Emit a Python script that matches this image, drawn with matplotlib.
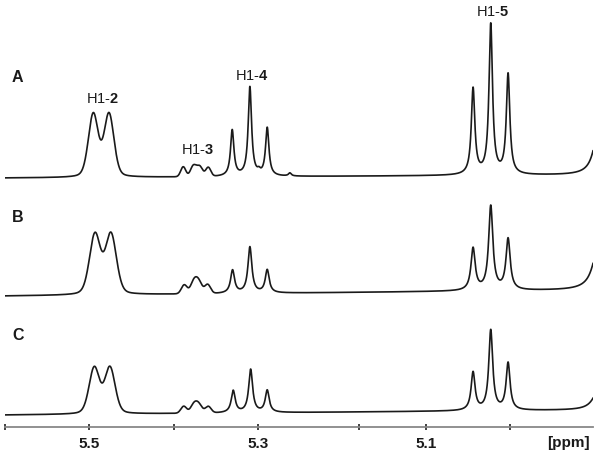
import numpy as np
import matplotlib
matplotlib.use('Agg')
import matplotlib.pyplot as plt

plt.rcParams['font.family'] = ['Liberation Sans', 'DejaVu Sans']
plt.rcParams['mathtext.fontset'] = 'custom'
plt.rcParams['mathtext.rm'] = 'Liberation Sans'
plt.rcParams['mathtext.bf'] = 'Liberation Sans:bold'

# peak lists: centre [ppm], height, half width [ppm],
# lorentzian fraction of the line shape (0 = gaussian, 1 = lorentzian)
# trace A
a_pos = [5.4955, 5.4768, 5.3886, 5.3765, 5.3690, 5.3589,
         5.3304, 5.3094, 5.2987, 5.2888, 5.2619,
         5.0442, 5.0232, 5.0026, 4.8950]
a_h = [62.8, 62.8, 10, 11, 10, 9,
       46, 89, 3, 48, 3,
       86, 150, 100, 46]
a_w = [0.0069, 0.0069, 0.0035, 0.0040, 0.0040, 0.0035,
       0.0024, 0.0024, 0.002, 0.0024, 0.002,
       0.0025, 0.0025, 0.0025, 0.007]
a_lor = [0.25, 0.25, 0, 0, 0, 0,
         1, 1, 1, 1, 1,
         1, 1, 1, 1]
a_base = [249, 252]

# trace B
b_pos = [5.4935, 5.4745, 5.3874, 5.3760, 5.3700, 5.3596,
         5.3300, 5.3094, 5.2888,
         5.0442, 5.0232, 5.0026, 4.8950]
b_h = [60, 60, 9, 12, 11, 9,
       23, 46, 23,
       42, 84, 51, 45]
b_w = [0.0077, 0.0077, 0.0040, 0.0045, 0.0045, 0.0040,
       0.0028, 0.0028, 0.0028,
       0.003, 0.003, 0.003, 0.008]
b_lor = [0.25, 0.25, 0, 0, 0, 0,
         1, 1, 1,
         1, 1, 1, 1]
b_base = [131, 137]

# trace C
c_pos = [5.4943, 5.4757, 5.3880, 5.3760, 5.3700, 5.3589,
         5.3292, 5.3085, 5.2888,
         5.0442, 5.0232, 5.0026, 4.8950]
c_h = [46, 46, 7, 8.5, 8, 6.5,
       22, 43, 22,
       38, 80, 47, 20]
c_w = [0.0073, 0.0073, 0.0040, 0.0045, 0.0045, 0.0040,
       0.0028, 0.0028, 0.0028,
       0.0028, 0.0028, 0.0028, 0.008]
c_lor = [0.25, 0.25, 0, 0, 0, 0,
         1, 1, 1,
         1, 1, 1, 1]
c_base = [12, 17]

trace_names = ['A', 'B', 'C']
name_y = [349, 210, 92]

peak_labels = [r'H1-$\mathbf{2}$', r'H1-$\mathbf{3}$', r'H1-$\mathbf{4}$', r'H1-$\mathbf{5}$']
peak_label_x = [5.4843, 5.3711, 5.3074, 5.0211]
peak_label_y = [328, 277, 351, 415]

tick_pos = [5.6, 5.5, 5.4, 5.3, 5.18, 5.1, 5.0]
tick_lab = ['', '5.5', '', '5.3', '', '5.1', '']

x_left, x_right = 5.6004, 4.9017
ppm = np.linspace(x_left, x_right, 4000)


def spectrum(pos, h, w, lor, base):
    y = base[0] + (base[1] - base[0]) * (x_left - ppm) / (x_left - x_right)
    for p, hh, ww, eta in zip(pos, h, w, lor):
        d2 = (ppm - p) ** 2
        shape = eta * ww ** 2 / (d2 + ww ** 2) + (1 - eta) * np.exp(-np.log(2) * d2 / ww ** 2)
        y = y + hh * shape
    return y


fig = plt.figure(figsize=(6, 4.54), dpi=100)
ax = fig.add_axes([5 / 600, 27 / 454, 588 / 600, 427 / 454])

for pos, h, w, lor, base in [(a_pos, a_h, a_w, a_lor, a_base),
                             (b_pos, b_h, b_w, b_lor, b_base),
                             (c_pos, c_h, c_w, c_lor, c_base)]:
    ax.plot(ppm, spectrum(pos, h, w, lor, base), color='#1a1a1a', lw=1.2)

for name, yy in zip(trace_names, name_y):
    ax.text(5.592, yy, name, ha='left', va='center', fontsize=11.5,
            fontweight='bold', color='#1a1a1a')

for lab, xx, yy in zip(peak_labels, peak_label_x, peak_label_y):
    ax.text(xx, yy, lab, ha='center', va='center', fontsize=10.5, color='#1a1a1a')

ax.set_xlim(x_left, x_right)
ax.set_ylim(0, 427)
ax.set_xticks(tick_pos)
ax.set_xticklabels(tick_lab, fontsize=11, fontweight='bold', color='#1a1a1a')
ax.set_yticks([])
for s in ['left', 'right', 'top']:
    ax.spines[s].set_visible(False)
ax.spines['bottom'].set_color('#888888')
ax.spines['bottom'].set_linewidth(1.3)
ax.tick_params(axis='x', direction='inout', length=5, width=1.3, color='#333333', pad=5)
ax.set_facecolor('none')

fig.text(568 / 600, 1 - 443 / 454, '[ppm]', ha='center', va='center',
         fontsize=11, fontweight='bold', color='#1a1a1a')

fig.savefig('out.png', dpi=100, facecolor='white')
